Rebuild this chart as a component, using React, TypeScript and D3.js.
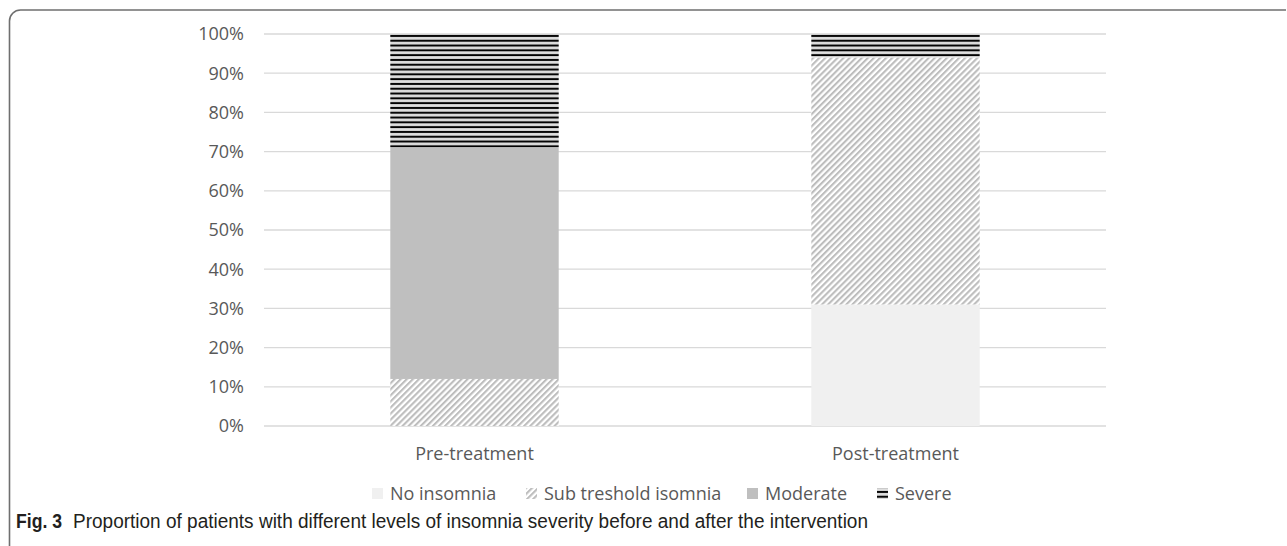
import React, { useEffect, useRef } from 'react';
import * as d3 from 'd3';

const categories = ['Pre-treatment', 'Post-treatment'];
const seriesNames = ['No insomnia', 'Sub treshold isomnia', 'Moderate', 'Severe'];
const noInsomnia = [0, 31];
const subThreshold = [12, 63];
const moderate = [59, 0];
const severe = [29, 6];
const yTicks = [0, 0.1, 0.2, 0.3, 0.4, 0.5, 0.6, 0.7, 0.8, 0.9, 1];

const App: React.FC = () => {
  const svgRef = useRef<SVGSVGElement | null>(null);

  useEffect(() => {
    const width = 1287;
    const height = 546;
    const margin = { top: 34, right: 181, bottom: 120, left: 264 };

    const svg = d3.select(svgRef.current)
      .attr('width', width)
      .attr('height', height)
      .style('background', '#fff');

    svg.selectAll('*').remove();

    const defs = svg.append('defs');

    // diagonal hatch for sub threshold
    const hatch = defs.append('pattern')
      .attr('id', 'hatch')
      .attr('patternUnits', 'userSpaceOnUse')
      .attr('width', 4.3)
      .attr('height', 4.3)
      .attr('patternTransform', 'rotate(45)');
    hatch.append('rect').attr('width', 4.3).attr('height', 4.3).attr('fill', '#fff');
    hatch.append('rect').attr('width', 2.1).attr('height', 4.3).attr('fill', '#bdbdbd');

    // horizontal stripes for severe
    const stripes = defs.append('pattern')
      .attr('id', 'stripes')
      .attr('patternUnits', 'userSpaceOnUse')
      .attr('width', 8)
      .attr('height', 4.8)
      .attr('y', 34);
    stripes.append('rect').attr('width', 8).attr('height', 4.8).attr('fill', '#d4d4d4');
    stripes.append('rect').attr('y', 1).attr('width', 8).attr('height', 2.2).attr('fill', '#000');
    stripes.append('rect').attr('y', 3.2).attr('width', 8).attr('height', 0.9).attr('fill', '#fff');

    const fills = ['#f0f0f0', 'url(#hatch)', '#bfbfbf', 'url(#stripes)'];

    const table = categories.map((c, i) => ({
      cat: c,
      'No insomnia': noInsomnia[i],
      'Sub treshold isomnia': subThreshold[i],
      Moderate: moderate[i],
      Severe: severe[i],
    }));
    const stacked = d3.stack<any>().keys(seriesNames)(table);

    const x = d3.scaleBand()
      .domain(categories)
      .range([margin.left, width - margin.right])
      .paddingInner(0.6)
      .paddingOuter(0.3);

    const y = d3.scaleLinear()
      .domain([0, 1])
      .range([height - margin.bottom, margin.top]);

    // gridlines
    svg.append('g')
      .selectAll('line')
      .data(yTicks)
      .join('line')
      .attr('x1', margin.left)
      .attr('x2', width - margin.right)
      .attr('y1', (d) => y(d))
      .attr('y2', (d) => y(d))
      .attr('stroke', '#d9d9d9')
      .attr('stroke-width', 1.3);

    // y tick labels
    svg.append('g')
      .selectAll('text')
      .data(yTicks)
      .join('text')
      .attr('x', 244)
      .attr('y', (d) => y(d))
      .attr('dy', '0.35em')
      .attr('text-anchor', 'end')
      .style('font-family', 'Open Sans')
      .style('font-size', '18px')
      .style('fill', '#595959')
      .text(d3.format('.0%'));

    // bars
    svg.append('g')
      .selectAll('g')
      .data(stacked)
      .join('g')
      .attr('fill', (_d, i) => fills[i])
      .selectAll('rect')
      .data((d) => d)
      .join('rect')
      .attr('x', (d) => x(d.data.cat)!)
      .attr('width', x.bandwidth())
      .attr('y', (d) => y(d[1] / 100))
      .attr('height', (d) => y(d[0] / 100) - y(d[1] / 100));

    // category labels
    svg.append('g')
      .selectAll('text')
      .data(categories)
      .join('text')
      .attr('x', (d) => x(d)! + x.bandwidth() / 2)
      .attr('y', 460)
      .attr('text-anchor', 'middle')
      .style('font-family', 'Open Sans')
      .style('font-size', '18px')
      .style('fill', '#595959')
      .text((d) => d);

    // legend
    const legendX = [372, 526, 747, 877];
    const legend = svg.append('g')
      .selectAll('g')
      .data(seriesNames)
      .join('g')
      .attr('transform', (_d, i) => `translate(${legendX[i]},0)`);
    legend.append('rect')
      .attr('x', 0)
      .attr('y', 488)
      .attr('width', 11)
      .attr('height', 11)
      .attr('fill', (_d, i) => fills[i]);
    legend.append('text')
      .attr('x', 18)
      .attr('y', 500)
      .style('font-family', 'Open Sans')
      .style('font-size', '18px')
      .style('fill', '#595959')
      .text((d) => d);

    // frame
    svg.append('path')
      .attr('d', 'M9.5,546 V21 A11,11 0 0 1 20.5,10 H1286')
      .attr('fill', 'none')
      .attr('stroke', '#6f6f6f')
      .attr('stroke-width', 1.6);

    // caption
    const cap = svg.append('text')
      .attr('x', 16)
      .attr('y', 528)
      .style('font-family', 'Liberation Sans, sans-serif')
      .style('font-size', '20px')
      .style('fill', '#231f20');
    cap.append('tspan')
      .style('font-weight', 'bold')
      .attr('textLength', 46)
      .attr('lengthAdjust', 'spacingAndGlyphs')
      .text('Fig. 3');
    cap.append('tspan')
      .attr('x', 73)
      .attr('textLength', 795)
      .attr('lengthAdjust', 'spacingAndGlyphs')
      .text('Proportion of patients with different levels of insomnia severity before and after the intervention');
  }, []);

  return <svg ref={svgRef} style={{ position: 'absolute', left: 0, top: 0 }}></svg>;
};

export default App;
